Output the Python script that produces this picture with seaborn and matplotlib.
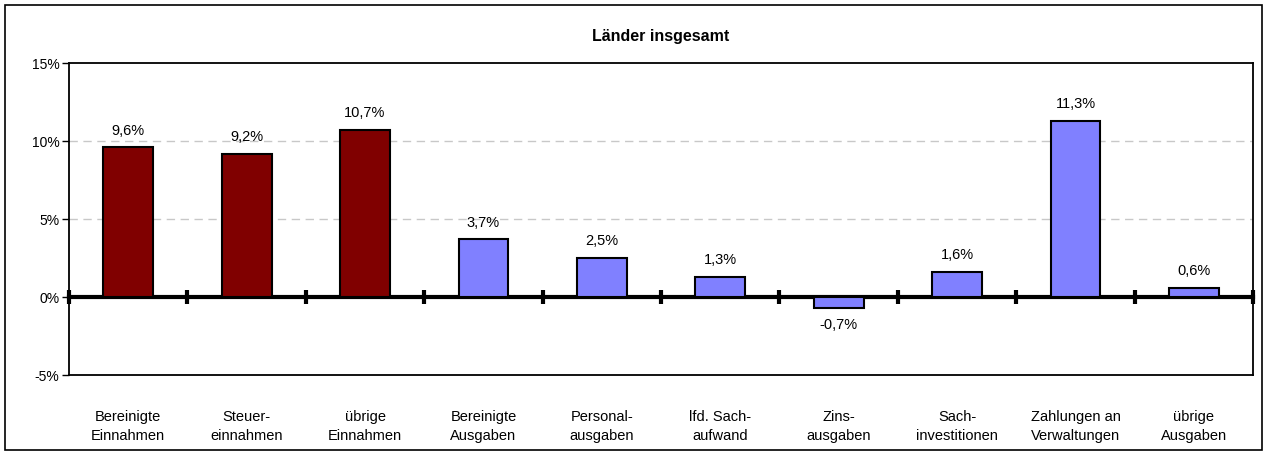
import numpy as np
import pandas as pd
import matplotlib.pyplot as plt
import seaborn as sns

categories = ["Bereinigte\nEinnahmen", "Steuer-\neinnahmen", "übrige\nEinnahmen",
              "Bereinigte\nAusgaben", "Personal-\nausgaben", "lfd. Sach-\naufwand",
              "Zins-\nausgaben", "Sach-\ninvestitionen", "Zahlungen an\nVerwaltungen",
              "übrige\nAusgaben"]
values = [9.6, 9.2, 10.7, 3.7, 2.5, 1.3, -0.7, 1.6, 11.3, 0.6]
groups = ["Einnahmen"] * 3 + ["Ausgaben"] * 7
y_ticks = [-5, 0, 5, 10, 15]

df = pd.DataFrame({"cat": categories, "val": values, "grp": groups})

sns.set_style("white")
plt.rcParams['font.family'] = ['Liberation Sans', 'DejaVu Sans']
plt.rcParams['text.color'] = 'black'
plt.rcParams['xtick.color'] = 'black'
plt.rcParams['ytick.color'] = 'black'

fig = plt.figure(figsize=(12.67, 4.54), dpi=100)
ax = fig.add_axes([0.0545, 0.174, 0.9345, 0.687])

sns.barplot(data=df, x="cat", y="val", hue="grp",
            palette={"Einnahmen": "#800000", "Ausgaben": "#8080FF"},
            dodge=False, width=0.42, edgecolor="black", linewidth=1.5,
            saturation=1, legend=False, ax=ax)

# data labels
for cont in ax.containers:
    labs = [f"{v:.1f}%".replace(".", ",") if not np.isnan(v) else ""
            for v in cont.datavalues]
    ax.bar_label(cont, labels=labs, padding=7, fontsize=10.5, color="black")

ax.set_ylim(-5, 15)
ax.set_xlim(-0.5, len(categories) - 0.5)
ax.set_yticks(y_ticks)
ax.set_yticklabels([f"{t}%" for t in y_ticks], fontsize=10)
ax.tick_params(axis="y", direction="out", length=5, width=1, pad=2, left=True,
               colors="black")
ax.tick_params(axis="x", length=0, pad=25, labelsize=10.5, colors="black")
for lab in ax.get_xticklabels():
    lab.set_linespacing(1.45)
ax.set_xlabel("")
ax.set_ylabel("")

for yv in [5, 10]:
    ax.axhline(yv, color="#c8c8c8", lw=1, ls=(0, (6, 4)), zorder=0)

for s in ax.spines.values():
    s.set_color("black")
    s.set_linewidth(1.3)

# thick zero axis with tick marks between categories
sec = ax.secondary_xaxis(0.25)
sec.set_xticks(np.arange(-0.5, len(categories), 1.0))
sec.tick_params(direction="inout", length=10, width=3, labelbottom=False,
                color="black")
sec.spines["bottom"].set_linewidth(3)
sec.spines["bottom"].set_color("black")

ax.set_title("Länder insgesamt", fontsize=11.5, fontweight="bold", pad=16,
             color="black")

fig.add_artist(plt.Rectangle((0.004, 0.008), 0.992, 0.98, transform=fig.transFigure,
                             fill=False, ec="black", lw=1.2))

fig.savefig("out.png", dpi=100)
